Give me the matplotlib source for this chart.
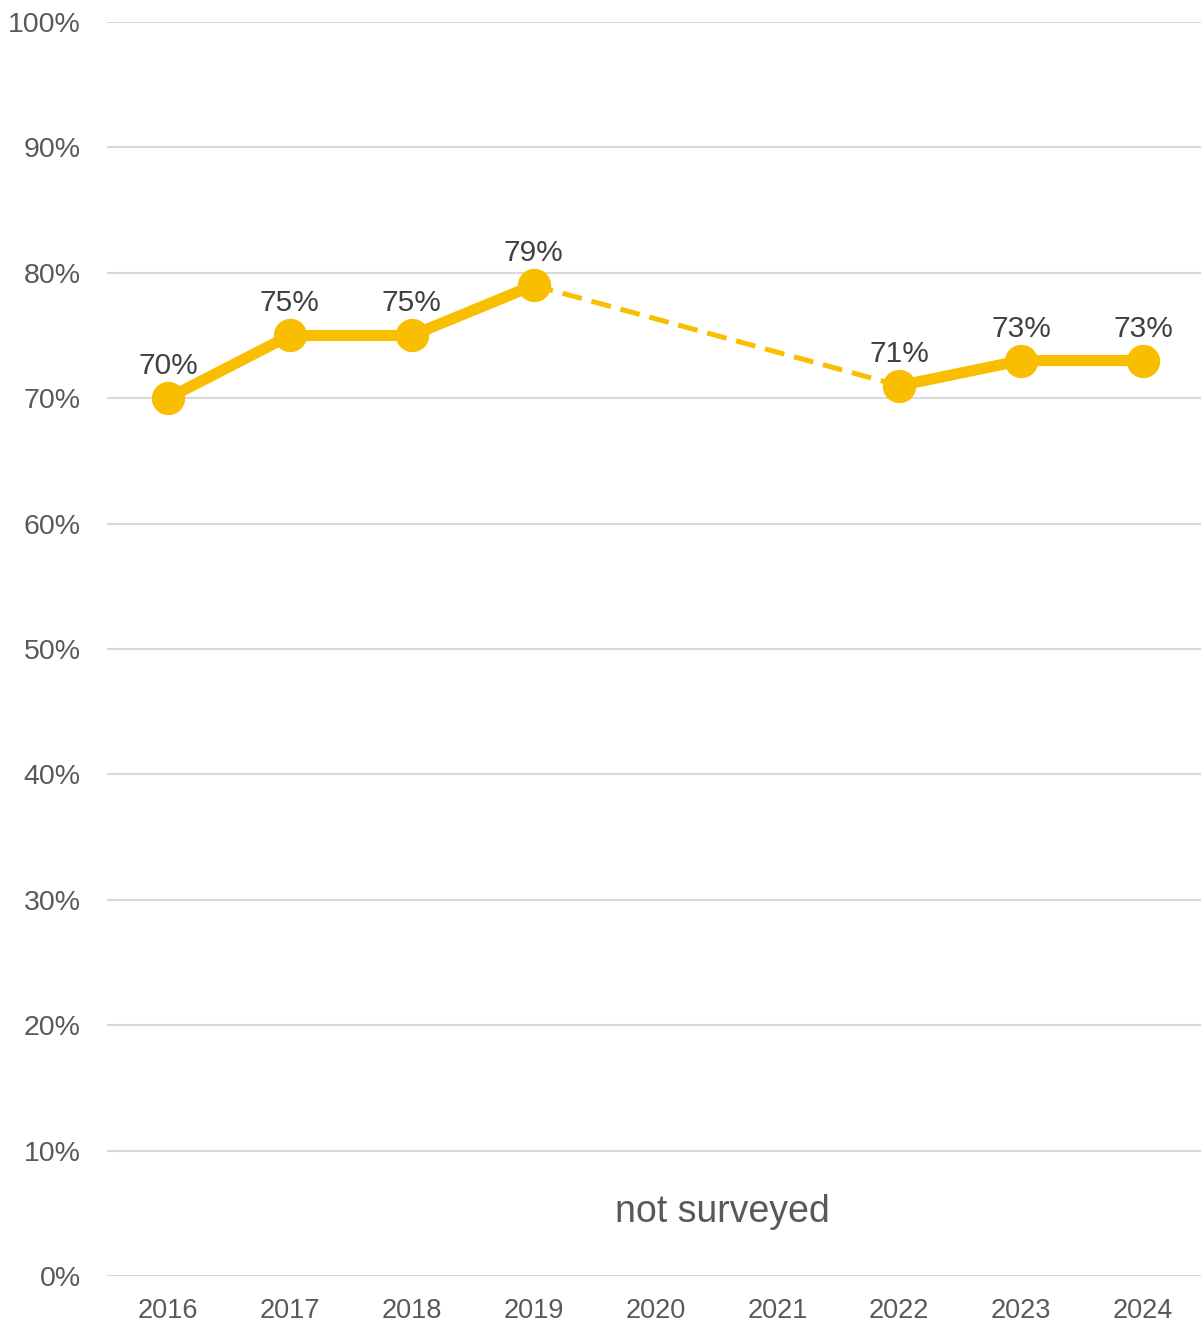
import matplotlib
matplotlib.use("Agg")
import matplotlib.pyplot as plt
import numpy as np

years = ["2016", "2017", "2018", "2019", "2020", "2021", "2022", "2023", "2024"]
values = [70, 75, 75, 79, None, None, 71, 73, 73]
yticks = [0, 10, 20, 30, 40, 50, 60, 70, 80, 90, 100]
gap_note = "not surveyed"

plt.rcParams['font.family'] = ['Liberation Sans', 'DejaVu Sans']
color = "#F9BE00"

fig = plt.figure(figsize=(12.01, 13.23), dpi=100)
ax = fig.add_axes([107/1201, 47/1323, 1097/1201, 1254/1323])

x = np.arange(len(years))
# solid runs
runs, cur = [], []
for i, v in enumerate(values):
    if v is None:
        if cur:
            runs.append(cur)
        cur = []
    else:
        cur.append(i)
if cur:
    runs.append(cur)
for r in runs:
    ax.plot(r, [values[i] for i in r], color=color, lw=8, solid_capstyle='round',
            marker='o', ms=23, zorder=3)
# dashed bridge between runs
for a, b in zip(runs[:-1], runs[1:]):
    i0, i1 = a[-1], b[0]
    ax.plot([i0, i1], [values[i0], values[i1]], color=color, lw=3.6,
            dashes=(4, 2), zorder=2)

for i, v in enumerate(values):
    if v is not None:
        ax.annotate(f"{v}%", (i, v), xytext=(0, 13), textcoords='offset points',
                    ha='center', va='bottom', fontsize=21.5, color='#404040')

ax.text(4.55, 5.1, gap_note, ha='center', va='center', fontsize=27, color='#595959')

ax.set_xlim(-0.5, 8.5)
ax.set_ylim(0, 100)
ax.set_xticks(x)
ax.set_xticklabels(years)
ax.set_yticks(yticks)
ax.set_yticklabels([f"{t}%" for t in yticks])
ax.tick_params(axis='both', length=0, colors='#595959')
ax.tick_params(axis='y', pad=19, labelsize=20.5)
ax.tick_params(axis='x', pad=16, labelsize=19.5)
ax.grid(axis='y', color='#D9D9D9', lw=1.5)
ax.set_axisbelow(True)
for s in ax.spines.values():
    s.set_visible(False)

fig.savefig("out.png", dpi=100)
